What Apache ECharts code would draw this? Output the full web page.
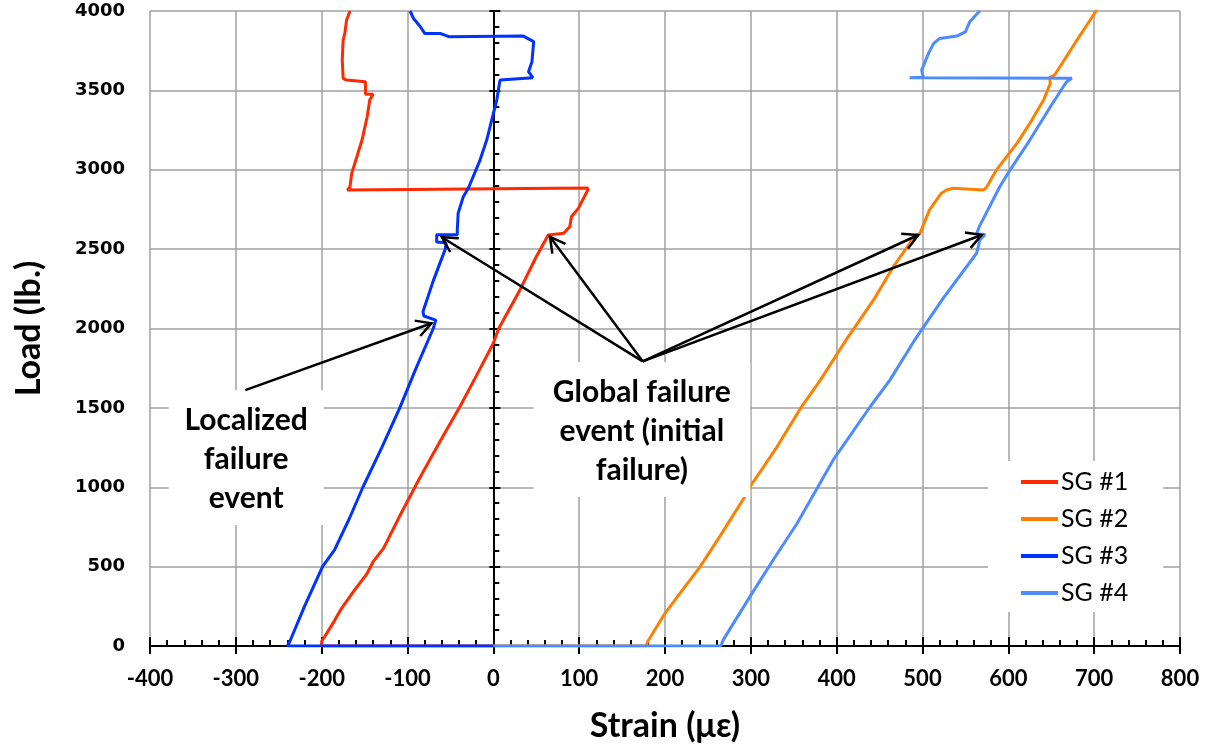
<!DOCTYPE html>
<html><head><meta charset="utf-8">
<script src="https://cdn.jsdelivr.net/npm/echarts@6/dist/echarts.min.js"></script>
<style>html,body{margin:0;padding:0;background:#fff}#c{width:1209px;height:750px}</style>
</head><body><div id="c"></div>
<script>
// ---- data: [strain (με), load (lb.)]
const seriesNames = ['SG #1', 'SG #2', 'SG #3', 'SG #4'];
const sg1 = [[0,0],[-200,0],[-200,30],[-196,63],[-185,160],[-178,227],[-163,342],[-147,458],[-140,531],[-128,615],[-108,830],[-85,1066],[-62,1290],[-39,1507],[-20,1700],[0,1907],[6,1997],[31,2243],[50,2452],[64,2589],[82,2600],[89,2641],[91,2704],[99,2757],[110,2872],[110,2885],[-170,2872],[-167,2893],[-165,2977],[-159,3082],[-153,3187],[-147,3334],[-144,3439],[-140,3475],[-149,3475],[-149,3555],[-171,3565],[-175,3576],[-176,3691],[-175,3817],[-173,3859],[-171,3943],[-167,4000]];
const sg2 = [[0,0],[178,0],[180,30],[200,206],[220,350],[241,500],[265,700],[293,940],[299,1003],[330,1250],[359,1507],[381,1675],[410,1920],[443,2180],[466,2389],[492,2590],[497,2598],[508,2746],[522,2852],[528,2872],[536,2883],[571,2872],[575,2893],[586,2998],[610,3166],[625,3292],[641,3439],[649,3545],[648,3580],[654,3597],[680,3817],[703,4006]];
const sg3 = [[0,0],[-240,0],[-237,30],[-220,250],[-199,500],[-185,605],[-168,800],[-152,1000],[-130,1250],[-109,1500],[-90,1750],[-70,2000],[-67,2053],[-81,2079],[-82,2106],[-70,2300],[-56,2500],[-55,2540],[-66,2545],[-66,2590],[-42,2590],[-42,2620],[-41,2726],[-35,2830],[-29,2885],[-15.5,3061],[-7.7,3187],[-1.9,3313],[4,3439],[7.8,3565],[9.8,3576],[46,3580],[41,3618],[45,3681],[47,3807],[49,3817],[35,3842],[-52,3838],[-62,3859],[-80,3859],[-85,3901],[-93,3953],[-97,4000]];
const sg4 = [[0,0],[265,0],[268,40],[299,311],[326,542],[354,773],[396,1172],[439,1507],[462,1675],[490,1920],[524,2190],[563,2474],[567,2560],[573,2592],[563,2595],[566,2640],[590,2893],[602,2998],[625,3187],[649,3397],[664,3523],[668,3555],[674,3576],[485,3580],[501,3582],[499,3628],[507,3733],[513,3796],[520,3827],[540,3842],[550,3869],[555,3932],[565,3990],[567,4000]];
const seriesColors = ['#ff2a00', '#ff8000', '#0033ff', '#4d8cff'];

// ---- annotations (data space)
const noteTexts = ['Localized\nfailure\nevent', 'Global failure\nevent (initial\nfailure)'];
const noteCenters = [[-288, 1187], [173, 1364]];
const localizedArrow = [[-289, 1612], [-72, 2033]];
const globalOrigin = [174, 1793];
const globalTargets = [[-60, 2575], [66, 2578], [495, 2589], [569, 2589]];

const chart = echarts.init(document.getElementById('c'));
const data = [sg1, sg2, sg3, sg4];
const tickStyle = {color: '#000', width: 2};
chart.setOption({
  animation: false,
  backgroundColor: '#fff',
  grid: {left: 150, right: 29, top: 11, bottom: 104},
  legend: {
    orient: 'vertical', left: 988, top: 461,
    padding: [6, 35, 4, 33], itemGap: 7,
    backgroundColor: '#fff',
    itemWidth: 37, itemHeight: 4, icon: 'rect',
    textStyle: {fontFamily: 'Lato', fontSize: 25, color: '#000', lineHeight: 30, padding: [0,0,0,-2]},
    data: seriesNames
  },
  xAxis: [{
    type: 'value', min: -400, max: 800, interval: 100, position: 'bottom',
    axisLine: {onZero: false, lineStyle: tickStyle},
    axisTick: {show: true, length: 8, lineStyle: tickStyle},
    axisLabel: {fontFamily: 'Lato', fontWeight: 'bold', fontSize: 22, color: '#000', margin: 22},
    splitLine: {show: true, lineStyle: {color: '#a0a0a0', width: 1.5}},
    name: 'Strain (με)', nameLocation: 'middle', nameGap: 63,
    nameTextStyle: {fontFamily: 'Lato', fontWeight: 'bold', fontSize: 34, color: '#000'}
  }, {
    type: 'value', min: -400, max: 800, interval: 100, position: 'top',
    axisLine: {show: true, onZero: true, onZeroAxisIndex: 0, lineStyle: tickStyle},
    axisTick: {show: true, length: 9, lineStyle: tickStyle},
    minorTick: {show: true, splitNumber: 5, length: 6, lineStyle: tickStyle},
    axisLabel: {show: false}, splitLine: {show: false}
  }],
  yAxis: [{
    type: 'value', min: 0, max: 4000, interval: 500, position: 'left',
    axisLine: {show: false, onZero: false},
    axisTick: {show: false},
    axisLabel: {fontFamily: 'DejaVu Sans', fontWeight: 'bold', fontSize: 18, color: '#000', margin: 25,
      formatter: v => String(v)},
    splitLine: {show: true, lineStyle: {color: '#a0a0a0', width: 1.5}},
    name: 'Load (lb.)', nameLocation: 'middle', nameGap: 104, nameRotate: 90,
    nameTextStyle: {fontFamily: 'Lato', fontWeight: 'bold', fontSize: 34, color: '#000'}
  }, {
    type: 'value', min: 0, max: 4000, interval: 500, position: 'right',
    axisLine: {show: true, onZero: true, onZeroAxisIndex: 0, lineStyle: tickStyle},
    axisTick: {show: true, length: 7, lineStyle: tickStyle},
    minorTick: {show: true, splitNumber: 5, length: 6, lineStyle: tickStyle},
    axisLabel: {show: false}, splitLine: {show: false}
  }, {
    type: 'value', min: 0, max: 4000, interval: 500, position: 'left',
    axisLine: {show: false, onZero: true, onZeroAxisIndex: 0},
    axisTick: {show: true, length: 4, lineStyle: tickStyle},
    axisLabel: {show: false}, splitLine: {show: false}
  }],
  series: data.map((d, i) => ({
    name: seriesNames[i], type: 'line', data: d, showSymbol: false, symbol: 'none',
    xAxisIndex: 0, yAxisIndex: 0,
    lineStyle: {color: seriesColors[i], width: 3},
    itemStyle: {color: seriesColors[i]},
    z: 2 + i
  }))
});

// ---- annotation graphics, positioned through the chart's own scales
const toPx = p => chart.convertToPixel({xAxisIndex: 0, yAxisIndex: 0}, p);
const boxSizes = [[155, 135], [217, 135]];
const g = [];
noteCenters.forEach((c, i) => {
  const p = toPx(c);
  const w = boxSizes[i][0], h = boxSizes[i][1];
  g.push({type: 'rect', z: 50, shape: {x: p[0] - w / 2, y: p[1] - h / 2, width: w, height: h}, style: {fill: '#fff'}});
  g.push({type: 'text', z: 51, x: p[0], y: p[1] + 2,
    style: {text: noteTexts[i], fontFamily: 'Lato', fontWeight: 'bold', fontSize: 30, lineHeight: 39,
      fill: '#000', align: 'center', verticalAlign: 'middle'}});
});
function arrow(from, to) {
  const a = toPx(from), b = toPx(to);
  const ang = Math.atan2(b[1] - a[1], b[0] - a[0]);
  const L = 17, spread = 0.5;
  const p1 = [b[0] - L * Math.cos(ang - spread), b[1] - L * Math.sin(ang - spread)];
  const p2 = [b[0] - L * Math.cos(ang + spread), b[1] - L * Math.sin(ang + spread)];
  g.push({type: 'line', z: 60, shape: {x1: a[0], y1: a[1], x2: b[0], y2: b[1]}, style: {stroke: '#000', lineWidth: 2.5}});
  g.push({type: 'polyline', z: 60, shape: {points: [p1, b, p2]}, style: {stroke: '#000', lineWidth: 2.5, fill: null}});
}
arrow(localizedArrow[0], localizedArrow[1]);
globalTargets.forEach(t => arrow(globalOrigin, t));
chart.setOption({graphic: g});
</script>
</body></html>
